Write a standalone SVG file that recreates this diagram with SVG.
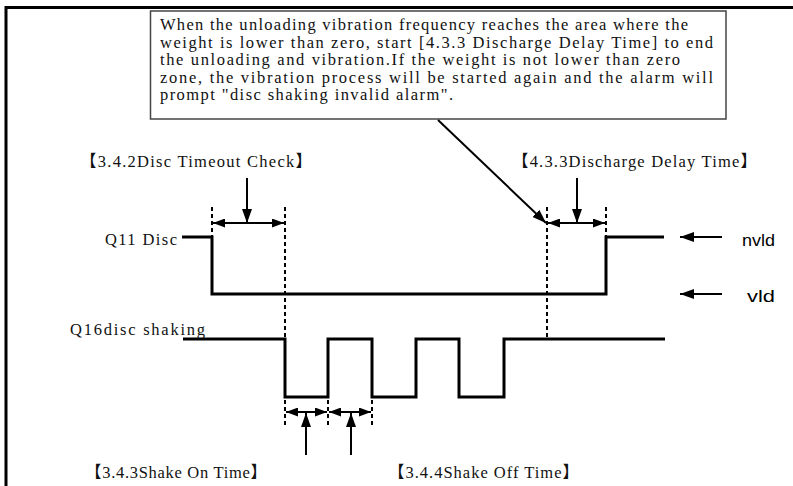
<svg xmlns="http://www.w3.org/2000/svg" width="793" height="486" viewBox="0 0 793 486">
<defs>
<style>
.t{font-family:"Liberation Serif","Noto Sans CJK SC",serif;font-size:16.5px;fill:#111}
.s{font-family:"Liberation Sans","Noto Sans",sans-serif;font-size:17px;fill:#000}
.w{fill:none;stroke:#000;stroke-width:3;stroke-linejoin:miter}
.d{fill:none;stroke:#000;stroke-width:2;stroke-dasharray:4 3}
.a{fill:none;stroke:#000;stroke-width:2}
</style>
<marker id="h" viewBox="0 0 12 9" refX="12" refY="4.5" markerWidth="12" markerHeight="9" markerUnits="userSpaceOnUse" orient="auto-start-reverse"><path d="M0,0L12,4.5L0,9z" fill="#000"/></marker>
<marker id="H" viewBox="0 0 14 10" refX="14" refY="5" markerWidth="14" markerHeight="10" markerUnits="userSpaceOnUse" orient="auto"><path d="M0,0L14,5L0,10z" fill="#000"/></marker>
</defs>
<rect width="793" height="486" fill="#fff"/>
<path d="M6,486V7.5H793" fill="none" stroke="#000" stroke-width="3"/>

<g id="note">
<rect x="150.5" y="11" width="575.5" height="108" fill="#fff" stroke="#444" stroke-width="1.5"/>
<text class="t" x="160" y="30" textLength="528" lengthAdjust="spacing">When the unloading vibration frequency reaches the area where the</text>
<text class="t" x="160" y="47.5" textLength="553" lengthAdjust="spacing">weight is lower than zero, start [4.3.3 Discharge Delay Time] to end</text>
<text class="t" x="160" y="65" textLength="520" lengthAdjust="spacing">the unloading and vibration.If the weight is not lower than zero</text>
<text class="t" x="160" y="82.5" textLength="553" lengthAdjust="spacing">zone, the vibration process will be started again and the alarm will</text>
<text class="t" x="160" y="100" textLength="293" lengthAdjust="spacing">prompt "disc shaking invalid alarm".</text>
</g>

<g id="label-timeout"><text class="t" x="80" y="167" textLength="232" lengthAdjust="spacing">【3.4.2Disc Timeout Check】</text></g>
<g id="label-discharge"><text class="t" x="512" y="167" textLength="245" lengthAdjust="spacing">【4.3.3Discharge Delay Time】</text></g>
<g id="label-shakeon"><text class="t" x="85" y="478" textLength="182" lengthAdjust="spacing">【3.4.3Shake On Time】</text></g>
<g id="label-shakeoff"><text class="t" x="388" y="478" textLength="191" lengthAdjust="spacing">【3.4.4Shake Off Time】</text></g>

<g id="q11">
<text class="t" x="105" y="245" textLength="72" lengthAdjust="spacing">Q11 Disc</text>
<path class="w" d="M182,237H212V294H606V237H664"/>
</g>
<g id="q16">
<text class="t" x="70" y="335" textLength="135" lengthAdjust="spacing">Q16disc shaking</text>
<path class="w" d="M183,339H285V397H328V339H372V397H416V339H459V397H504V339H665"/>
</g>
<g id="nvld"><text class="s" x="742" y="246" textLength="33" lengthAdjust="spacingAndGlyphs">nvld</text></g>
<g id="vld"><text class="s" x="747" y="302" textLength="28" lengthAdjust="spacingAndGlyphs">vld</text></g>

<g id="connectors">
<path class="d" d="M212,207V237"/>
<path class="d" d="M285,207V339"/>
<path class="d" d="M547,207V339"/>
<path class="d" d="M606,207V237"/>
<path class="d" d="M285,400V428"/>
<path class="d" d="M328,400V428"/>
<path class="d" d="M372,400V428"/>
<path class="a" d="M213,223H284" marker-start="url(#h)" marker-end="url(#h)"/>
<path class="a" d="M548,223H605" marker-start="url(#h)" marker-end="url(#h)"/>
<path class="a" d="M286,412H327" marker-start="url(#h)" marker-end="url(#h)"/>
<path class="a" d="M329,412H371" marker-start="url(#h)" marker-end="url(#h)"/>
<path class="a" d="M247,178V223" marker-end="url(#H)"/>
<path class="a" d="M577,178V223" marker-end="url(#H)"/>
<path class="a" d="M306,455V413" marker-end="url(#H)"/>
<path class="a" d="M351,455V413" marker-end="url(#H)"/>
<path class="a" d="M438,120L546,223" marker-end="url(#H)"/>
<path class="a" d="M722,237H680" marker-end="url(#H)"/>
<path class="a" d="M722,294H680" marker-end="url(#H)"/>
</g>
</svg>
